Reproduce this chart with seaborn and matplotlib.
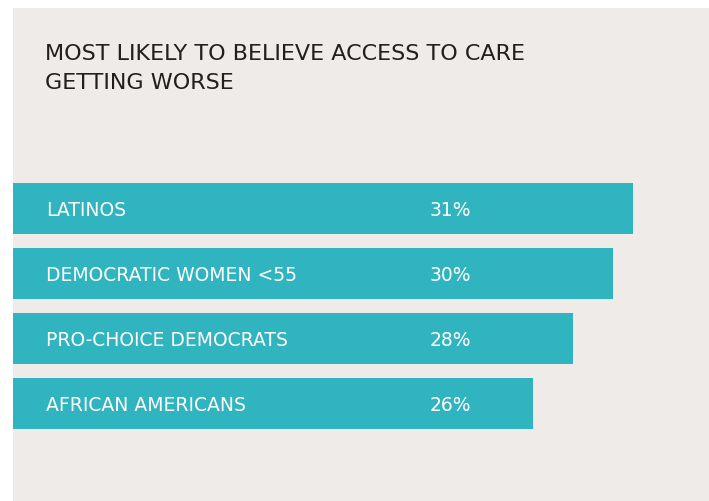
import matplotlib
matplotlib.use("Agg")
import matplotlib.pyplot as plt
import seaborn as sns
import pandas as pd

# Survey shares, in percent
groups = ["LATINOS", "DEMOCRATIC WOMEN <55", "PRO-CHOICE DEMOCRATS", "AFRICAN AMERICANS"]
shares = [31, 30, 28, 26]
title_lines = ["MOST LIKELY TO BELIEVE ACCESS TO CARE", "GETTING WORSE"]

BAR = "#30B4C0"
PANEL = "#EFEBE8"
INK = "#231F20"
FONT = ["DejaVu Sans"]

df = pd.DataFrame({"group": groups, "share": shares})

sns.set_theme(style="white")
plt.rcParams["font.family"] = FONT

W, H = 709, 502
fig = plt.figure(figsize=(W / 100, H / 100), dpi=100, facecolor="white")

# Tinted panel behind the whole chart
fig.patches.append(plt.Rectangle((13 / W, 0), 1 - 13 / W, 1 - 9 / H,
                                 transform=fig.transFigure, facecolor=PANEL,
                                 edgecolor="none", zorder=-5))

ax = fig.add_axes([13 / W, 1 - 437 / H, (W - 13) / W, 260 / H])
ax.set_facecolor("none")
ax.set_zorder(2)
sns.barplot(data=df, x="share", y="group", orient="h", color=BAR,
            saturation=1, width=0.78, ax=ax)
for p in ax.patches:
    p.set_edgecolor("none")

ax.set_xlim(0, (W - 13) / 20)
ax.set_ylim(len(groups) - 0.5, -0.5)
ax.set_xlabel("")
ax.set_ylabel("")
ax.set_xticks([])
ax.set_yticks([])
for s in ax.spines.values():
    s.set_visible(False)

for i, (g, v) in enumerate(zip(groups, shares)):
    ax.text(1.65, i + 0.1, g, color="white", fontsize=13.5, va="baseline", ha="left")
    ax.text(20.85, i + 0.1, f"{v}%", color="white", fontsize=13.5, va="baseline", ha="left")

fig.text(45 / W, 1 - 60 / H, title_lines[0], color=INK, fontsize=16,
         va="baseline", ha="left")
fig.text(45 / W, 1 - 89 / H, title_lines[1], color=INK, fontsize=16,
         va="baseline", ha="left")

fig.savefig("out.png", dpi=100, facecolor="white")
